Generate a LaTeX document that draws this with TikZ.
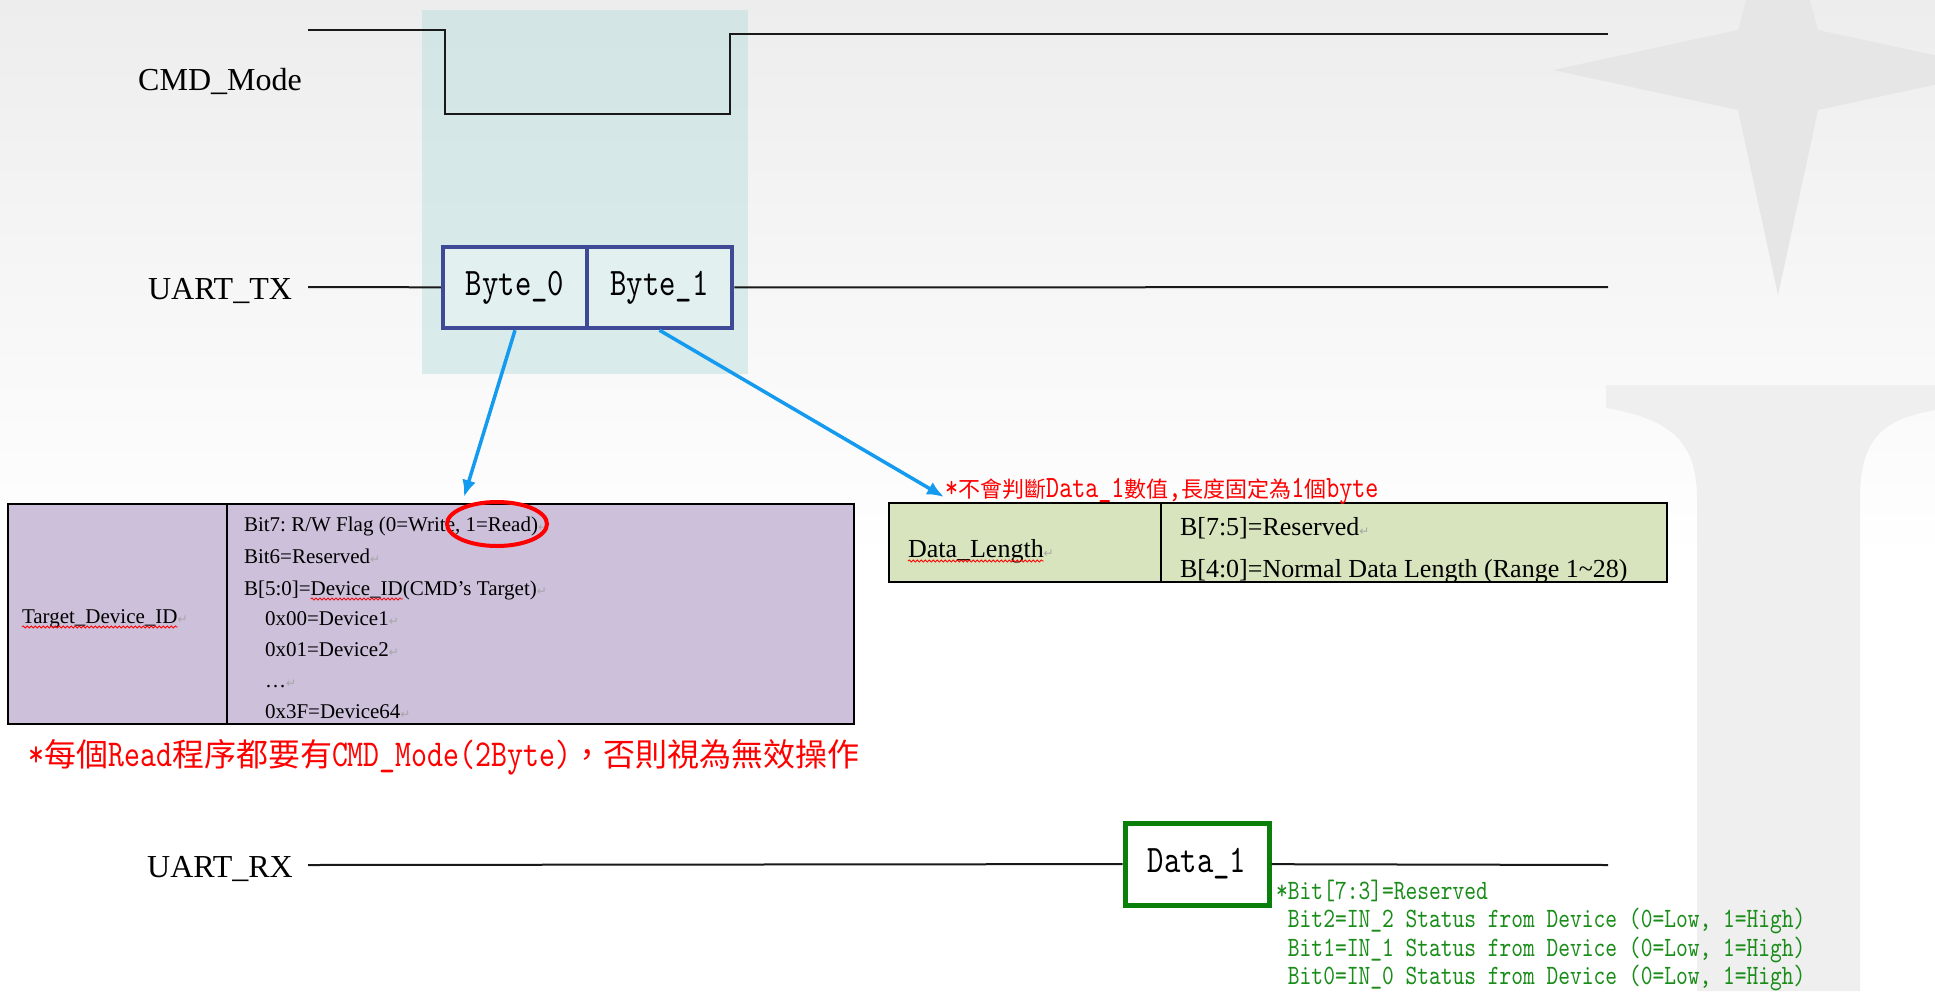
\documentclass[tikz,border=0pt]{standalone}
\usepackage{fontspec}
\setmainfont{Liberation Serif}
\newfontfamily\zhfont{Noto Sans CJK TC}
\newfontfamily\narrowtt{lmmono10-regular.otf}[FakeStretch=0.8]
\newfontfamily\marksym{DejaVu Sans}
\usetikzlibrary{shapes.geometric,arrows.meta,positioning,decorations.pathmorphing}
\frenchspacing

\definecolor{tgtfill}{HTML}{CCC0DA}
\definecolor{lenfill}{HTML}{D7E4BD}
\definecolor{byteblue}{RGB}{62,74,150}
\definecolor{bytefill}{HTML}{E2F0F0}
\definecolor{winshade}{HTML}{B4DCDC}
\definecolor{ptrblue}{RGB}{20,155,240}
\definecolor{rxgreen}{RGB}{10,128,10}
\definecolor{notegreen}{RGB}{25,140,25}
\definecolor{bgtop}{HTML}{EDEDED}
\definecolor{logostar}{HTML}{E6E6E6}
\definecolor{logobar}{HTML}{EFEFEF}

\newcommand\zh[2][32]{{\zhfont\fontsize{#1}{#1}\selectfont #2}}
\newcommand\pmark{{\marksym\fontsize{12}{12}\selectfont\textcolor{black!35}{↵}}}

\begin{document}
\begin{tikzpicture}[x=1pt,y=-1pt,
  sig/.style={line width=2pt,black!90},
  siglabel/.style={anchor=base,inner sep=0,font=\fontsize{32}{36}\selectfont},
  bytebox/.style={draw=byteblue,line width=4.5pt,fill=bytefill,minimum width=144pt,minimum height=81pt,inner sep=0,font=\narrowtt\fontsize{39}{42}\selectfont},
  databox/.style={draw=rxgreen,line width=5pt,fill=white,minimum width=144pt,minimum height=82pt,inner sep=0,font=\narrowtt\fontsize{39}{42}\selectfont},
  ptr/.style={-{Latex[length=17pt,width=14pt]},line width=3.5pt,ptrblue},
  cell/.style={draw=black,line width=2pt,anchor=north west,inner sep=0},
  row/.style={anchor=base west,inner sep=0,outer sep=0,font=\fontsize{21}{24}\selectfont},
  bigrow/.style={anchor=base west,inner sep=0,outer sep=0,font=\fontsize{26}{30}\selectfont},
  spellwave/.style={red,line width=.8pt,decorate,decoration={snake,amplitude=1.1pt,segment length=4pt}},
  greennote/.style={anchor=base west,inner sep=0,text=notegreen,font=\narrowtt\fontsize{28}{28}\selectfont},
  rednote/.style={anchor=base west,inner sep=0,text=red}
]
\useasboundingbox (0,0) rectangle (1935,991);

% to draw slide background
\fill[white] (0,0) rectangle (1935,991);
\shade[top color=bgtop,bottom color=white] (0,0) rectangle (1935,560);
\fill[logostar] (1778,-115) -- (1818,30) -- (2003,70) -- (1818,110) -- (1778,295) -- (1738,110) -- (1553,70) -- (1738,30) -- cycle;
\fill[logobar] (1606,385) -- (1935,385) -- (1935,410) .. controls (1880,420) and (1860,440) .. (1860,500) -- (1860,991) -- (1697,991) -- (1697,500) .. controls (1697,450) and (1680,420) .. (1606,408) -- cycle;

% to shade the command window
\fill[winshade,fill opacity=.45] (422,10) rectangle (748,374);

% CMD_Mode
\node[siglabel] (cmdlbl) at (220,90) {CMD\_Mode};
\coordinate (cmdstart) at (308,30);
\coordinate (cmdend) at (1608,34);
\draw[sig] (cmdstart) -- (445,30) -- (445,114) -- (730,114) -- (730,34) -- (cmdend);

% UART_TX
\node[siglabel] (txlbl) at (220,299) {UART\_TX};
\node[bytebox] (b0) at (515,287.5) {Byte\_0};
\node[bytebox,minimum width=145pt] (b1) at (659.5,287.5) {Byte\_1};
\coordinate (txstart) at (308,287);
\coordinate (txend) at (1608,287);
\draw[sig] (txstart) -- (b0);
\draw[sig] (b1) -- (txend);

% UART_RX
\node[siglabel] (rxlbl) at (220,877) {UART\_RX};
\node[databox] (d1) at (1197,864) {Data\_1};
\coordinate (rxstart) at (308,865);
\coordinate (rxend) at (1608,865);
\draw[sig] (rxstart) -- (d1);
\draw[sig] (d1) -- (rxend);

% to draw Target_Device_ID table
\node[cell,fill=tgtfill,minimum width=219pt,minimum height=220pt] (tgtkey) at (7,503) {};
\node[cell,fill=tgtfill,minimum width=627pt,minimum height=220pt] (tgtval) at (226,503) {};
\node[row] (tgtname) at (22,623) {Target\_Device\_ID};
\node[row] at (tgtname.base east) {\pmark};
\draw[spellwave] ([yshift=-4pt]tgtname.base west) -- ([yshift=-4pt]tgtname.base east);
\node[row] (bit7) at (244,531) {Bit7: R/W Flag (0=Write, 1=Read)\pmark};
\node[row] (bit6) at (244,563) {Bit6=Reserved\pmark};
\node[row] (devpre) at (244,595) {B[5:0]=};
\node[row] (devword) at (devpre.base east) {Device\_ID};
\node[row] (devpost) at (devword.base east) {(CMD’s Target)\pmark};
\draw[spellwave] ([yshift=-4pt]devword.base west) -- ([yshift=-4pt]devword.base east);
\node[row] (dev1) at (265,625) {0x00=Device1\pmark};
\node[row] (dev2) at (265,656) {0x01=Device2\pmark};
\node[row] (devdots) at (265,687) {\ldots\pmark};
\node[row] (dev64) at (265,718) {0x3F=Device64\pmark};
\node[draw=red,line width=4pt,ellipse,minimum width=100pt,minimum height=44pt,inner sep=0] (readring) at (497,524) {};

% to draw Data_Length table
\node[cell,fill=lenfill,minimum width=272pt,minimum height=79pt] (lenkey) at (888,502) {};
\node[cell,fill=lenfill,minimum width=506pt,minimum height=79pt] (lenval) at (1160,502) {};
\node[bigrow] (lenname) at (908,557) {Data\_Length};
\node[bigrow] at (lenname.base east) {\pmark};
\draw[spellwave] ([yshift=-4pt]lenname.base west) -- ([yshift=-4pt]lenname.base east);
\node[bigrow] (lenres) at (1180,535) {B[7:5]=Reserved\pmark};
\node[bigrow] (lennorm) at (1180,577) {B[4:0]=Normal Data Length (Range 1\textasciitilde28)};

% to draw arrows from bytes
\coordinate (tgttip) at (464,497);
\coordinate (lentip) at (944,497);
\draw[ptr] (b0.south) -- (tgttip);
\draw[ptr] (b1.south) -- (lentip);

% red notes
\node[rednote,font=\narrowtt\fontsize{31}{34}\selectfont] (lennote) at (945,497) {*\zh[22]{不會判斷}Data\_1\zh[22]{數值},\zh[22]{長度固定為}1\zh[22]{個}byte};
\node[rednote,font=\narrowtt\fontsize{38}{42}\selectfont] (readnote) at (28,766) {*\zh{每個}Read\zh{程序都要有}CMD\_Mode(2Byte)\zh{，否則視為無效操作}};

% green notes for Data_1
\node[greennote] (bitres) at (1276,899) {*Bit[7:3]=Reserved};
\node[greennote] (bit2) at (1276,927) {\hphantom{*}Bit2=IN\_2 Status from Device (0=Low, 1=High)};
\node[greennote] (bit1) at (1276,956) {\hphantom{*}Bit1=IN\_1 Status from Device (0=Low, 1=High)};
\node[greennote] (bit0) at (1276,984) {\hphantom{*}Bit0=IN\_0 Status from Device (0=Low, 1=High)};
\end{tikzpicture}
\end{document}
